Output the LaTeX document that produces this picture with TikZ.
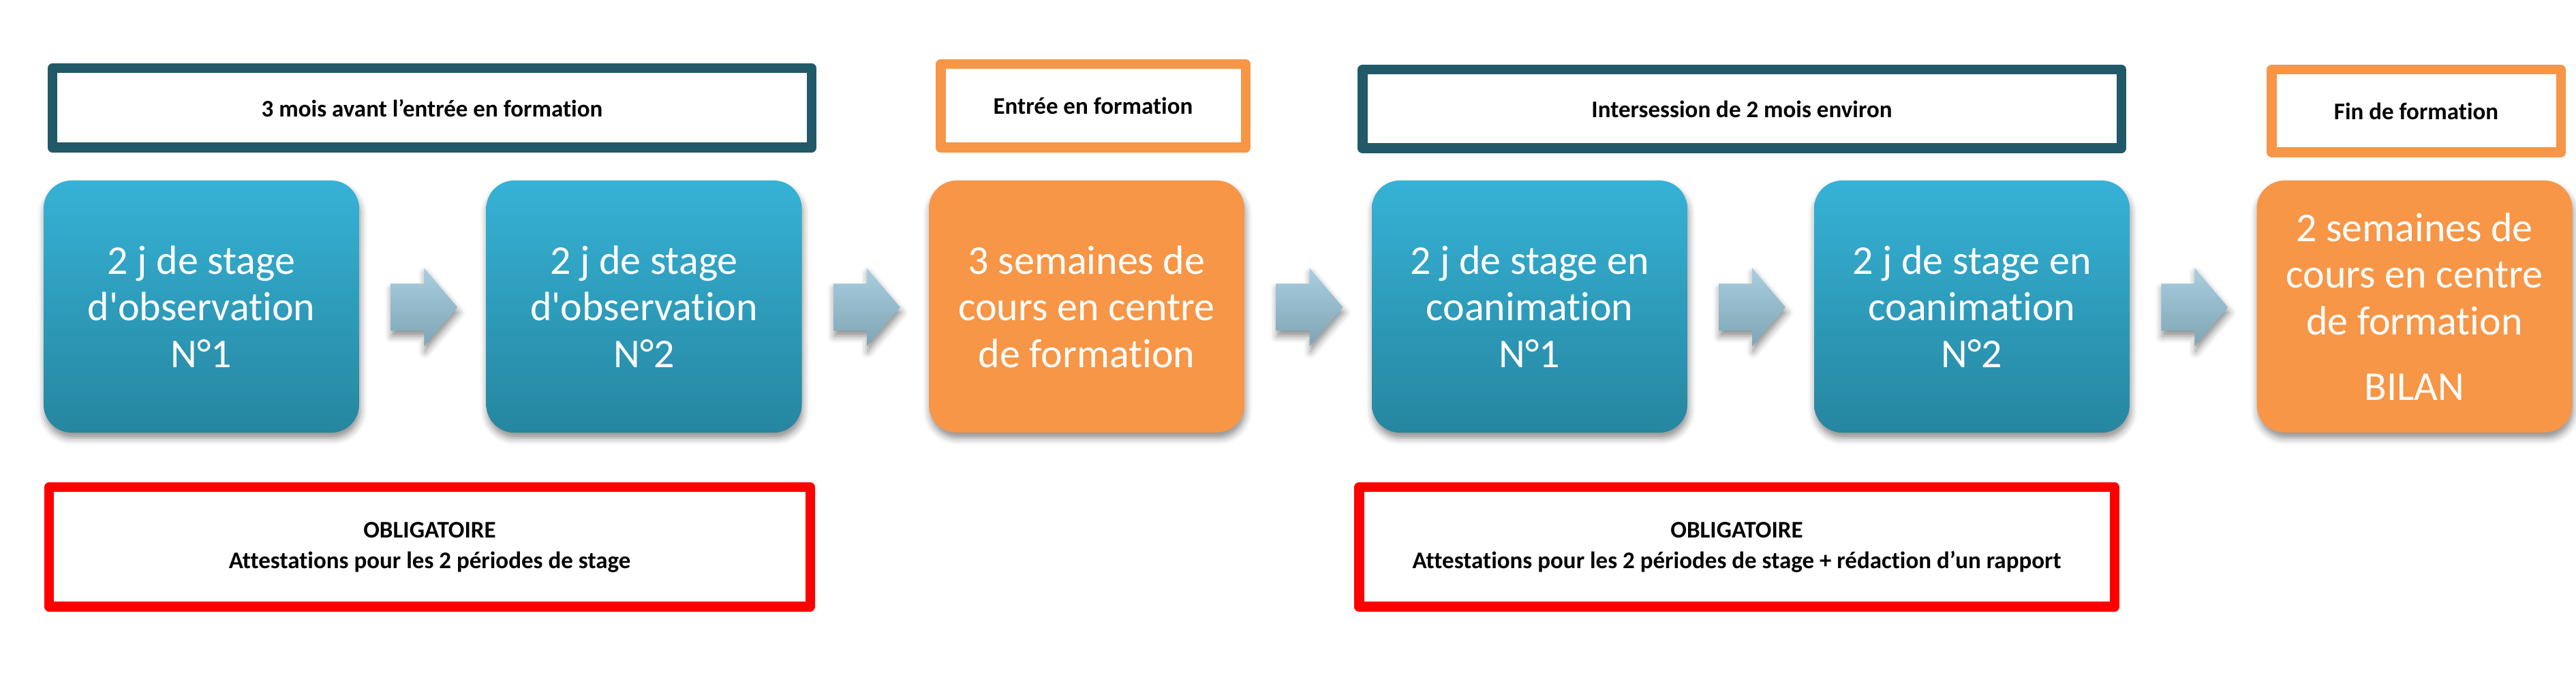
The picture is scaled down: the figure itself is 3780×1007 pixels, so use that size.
\documentclass[tikz,border=0pt]{standalone}
\usepackage{fontspec}
\setmainfont{Carlito}[Ligatures={TeX,NoCommon}]
\usetikzlibrary{shadows.blur, calc}

\definecolor{stagetop}{HTML}{36B2D6}
\definecolor{stagebottom}{HTML}{2686A0}
\definecolor{coursorange}{HTML}{F79646}
\definecolor{periodteal}{HTML}{215968}
\definecolor{arrowtop}{HTML}{A8CEDF}
\definecolor{arrowbottom}{HTML}{7FA5B5}

\begin{document}
\begin{tikzpicture}[x=0.2pt, y=-0.2pt,
  softshadow/.style={blur shadow={shadow xshift=0.3pt, shadow yshift=-1.6pt, shadow blur radius=2pt, shadow opacity=45}},
  block/.style={rounded corners=8.2pt, minimum width=92.6pt, minimum height=74pt, inner sep=0pt,
    align=center, text=white, font=\fontsize{12}{13.7}\selectfont, softshadow},
  bluestage/.style={block, top color=stagetop, bottom color=stagebottom},
  orangestage/.style={block, fill=coursorange},
  period/.style={draw=#1, line width=2.9pt, line join=round, fill=white, inner sep=0pt,
    align=center, font=\bfseries\fontsize{7}{9}\selectfont},
  flowarrow/.style={top color=arrowtop, bottom color=arrowbottom, softshadow}
]
  \newcommand{\FlowArrow}[1]{%
    \path[flowarrow] (#1) ++(-49,-34.5) -- ++(49,0) -- ++(0,-23) -- ++(49,57.5)
      -- ++(-49,57.5) -- ++(0,-23) -- ++(-49,0) -- cycle;%
  }
  \useasboundingbox (0,0) rectangle (3780,1007);

  % periods above the boxes
  \node[period=periodteal, minimum width=222.7pt, minimum height=23.3pt] (p1) at (634,158.5) {3 mois avant l’entrée en formation};
  \node[period=coursorange, minimum width=89.5pt, minimum height=24.5pt] (p2) at (1604,155.5) {Entrée en formation};
  \node[period=periodteal, minimum width=222.7pt, minimum height=23.1pt] (p3) at (2556,160) {Intersession de 2 mois environ};
  \node[period=coursorange, minimum width=84.9pt, minimum height=24.3pt] (p4) at (3545.5,163) {Fin de formation};

  % the six steps
  \node[bluestage] (s1) at (295.5,450) {2 j de stage\\d\textquotesingle observation\\N°1};
  \node[bluestage] (s2) at (945,450) {2 j de stage\\d\textquotesingle observation\\N°2};
  \node[orangestage] (s3) at (1594.5,450) {3 semaines de\\cours en centre\\de formation};
  \node[bluestage] (s4) at (2244.5,450) {2 j de stage en\\coanimation\\N°1};
  \node[bluestage] (s5) at (2893.5,450) {2 j de stage en\\coanimation\\N°2};
  \node[orangestage] (s6) at (3543,450) {2 semaines de\\cours en centre\\de formation\\[5.6pt]BILAN};

  \foreach \a/\b in {s1/s2, s2/s3, s3/s4, s4/s5, s5/s6} {
    \coordinate (arr-\a) at ($(\a.east)!0.5!(\b.west) + (2,1)$);
    \FlowArrow{arr-\a}
  }

  % mandatory papers
  \node[period=red, minimum width=223.3pt, minimum height=35.1pt] (o1) at (630.5,803)
    {OBLIGATOIRE\\Attestations pour les 2 périodes de stage};
  \node[period=red, minimum width=221.7pt, minimum height=35.1pt] (o2) at (2548.5,803)
    {OBLIGATOIRE\\Attestations pour les 2 périodes de stage + rédaction d’un rapport};
\end{tikzpicture}
\end{document}
